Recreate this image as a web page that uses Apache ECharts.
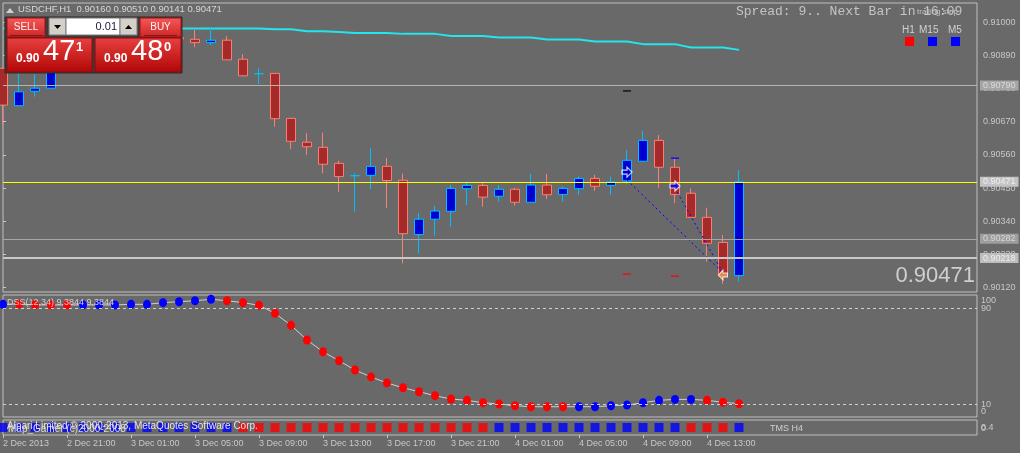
<!DOCTYPE html>
<html><head><meta charset="utf-8">
<script src="https://cdn.jsdelivr.net/npm/echarts@6/dist/echarts.min.js"></script>
<style>html,body{margin:0;padding:0;background:#696969;overflow:hidden}#c{width:1020px;height:453px}</style>
</head><body><div id="c"></div>
<script>
// ---------------- data ----------------
const symbolName = 'USDCHF,H1';
const timeLabels = ['2 Dec 2013','2 Dec 21:00','3 Dec 01:00','3 Dec 05:00','3 Dec 09:00','3 Dec 13:00','3 Dec 17:00','3 Dec 21:00','4 Dec 01:00','4 Dec 05:00','4 Dec 09:00','4 Dec 13:00'];
const barsPerLabel = 4;
const priceTicks = [0.90120,0.90230,0.90340,0.90450,0.90560,0.90670,0.90780,0.90890,0.91000];
const dssInnerTicks = [10,90];
const dssTopTick = [100];
const dssBottomTick = [0];
const tmsTicks = ['0','0.4'];
const open  = [0.90847,0.90723,0.90771,0.90781,0.90891,0.90924,0.90908,0.90947,0.90954,0.90934,0.90961,0.90949,0.90943,0.90932,0.90940,0.90877,0.90829,0.90830,0.90681,0.90602,0.90585,0.90532,0.90491,0.90492,0.90522,0.90476,0.90296,0.90347,0.90373,0.90448,0.90459,0.90423,0.90446,0.90403,0.90460,0.90429,0.90448,0.90482,0.90459,0.90474,0.90539,0.90608,0.90519,0.90433,0.90353,0.90270,0.90160];
const high  = [0.90848,0.90848,0.90828,0.90908,0.90941,0.90934,0.90961,0.90974,0.90967,0.90980,0.90987,0.90964,0.90974,0.90983,0.90954,0.90894,0.90847,0.90830,0.90681,0.90632,0.90634,0.90541,0.90499,0.90583,0.90550,0.90498,0.90368,0.90391,0.90460,0.90471,0.90466,0.90460,0.90451,0.90497,0.90497,0.90455,0.90488,0.90494,0.90488,0.90576,0.90639,0.90626,0.90549,0.90449,0.90385,0.90295,0.90510];
const low   = [0.90659,0.90723,0.90753,0.90781,0.90881,0.90891,0.90894,0.90927,0.90921,0.90924,0.90947,0.90927,0.90917,0.90924,0.90875,0.90822,0.90795,0.90653,0.90579,0.90560,0.90499,0.90438,0.90372,0.90447,0.90384,0.90200,0.90233,0.90292,0.90322,0.90394,0.90388,0.90405,0.90392,0.90403,0.90414,0.90405,0.90427,0.90441,0.90427,0.90463,0.90539,0.90451,0.90400,0.90353,0.90206,0.90132,0.90141];
const close = [0.90725,0.90769,0.90781,0.90891,0.90924,0.90908,0.90947,0.90954,0.90934,0.90961,0.90974,0.90944,0.90932,0.90940,0.90875,0.90822,0.90829,0.90680,0.90605,0.90587,0.90529,0.90488,0.90491,0.90522,0.90475,0.90299,0.90347,0.90374,0.90449,0.90459,0.90420,0.90446,0.90403,0.90460,0.90428,0.90449,0.90482,0.90456,0.90470,0.90542,0.90608,0.90519,0.90429,0.90353,0.90267,0.90158,0.90471];
const ma    = [0.90979,0.90979,0.90979,0.90979,0.90979,0.90979,0.90979,0.90979,0.90979,0.90979,0.90979,0.90979,0.90979,0.90979,0.90979,0.90979,0.90979,0.90976,0.90976,0.90970,0.90970,0.90967,0.90964,0.90964,0.90964,0.90961,0.90961,0.90961,0.90954,0.90954,0.90954,0.90949,0.90949,0.90949,0.90942,0.90942,0.90942,0.90936,0.90936,0.90936,0.90927,0.90927,0.90927,0.90916,0.90916,0.90916,0.90908];
const spreadPoints = 9;
const levels = [0.90790,0.90471,0.90282,0.90218];
const signalLineA = [[39,0.90477],[45,0.90169]];
const signalLineB = [[42,0.90450],[45,0.90169]];
const arrowRight = [[39,0.90503],[42,0.90457]];
const arrowLeft  = [[45,0.90162]];
const dashBlack = [[39,0.90772]];
const dashRed   = [[39,0.90165],[42,0.90158]];
const dashBlue  = [[42,0.90549]];
const dss = [93.3,93.6,92.8,92.8,92.8,92.8,92.8,92.8,93.3,93.3,94.7,95.5,96.3,97.5,96.3,94.7,92.5,85.8,75.8,63.6,53.8,46.3,38.6,32.8,27.8,23.8,20.5,17.2,14.4,13.3,11.3,10.3,8.8,8.0,8.0,8.0,8.0,8.0,8.8,9.4,11.3,13.3,14.1,14.1,13.3,11.7,10.5];
const dssSide = 'brrrrbbbbbbbbbrrrrrrrrrrrrrrrrrrrrrrbbbbbbbbrrr';
const dssLevels = [90,10];
const tmsSide = 'bbbbbbbbbbbbbbbrrrrrrrrrrrrrrrrbbbbbbbbbbbbrrrb';
const tfNames = ['H1','M15','M5'];
const tfSide = 'rbb';

// ---------------- chart ----------------
const FONT = 'Liberation Sans';
const TXT = '#c8c8c8';
const BG = '#696969';
const side = s => s === 'r' ? '#ff0000' : '#0000ff';
const n = close.length;
const chart = echarts.init(document.getElementById('c'), null, {renderer:'canvas'});

const xMax = 974 / 16;
const tickVals = timeLabels.map((_, k) => k * barsPerLabel);
const mkX = (gi, showLab) => ({
  type:'value', gridIndex:gi, min:0, max:xMax,
  axisLine:{show:false}, splitLine:{show:false},
  axisTick:{show:showLab, customValues:tickVals, length:3, lineStyle:{color:TXT}},
  axisLabel:{show:showLab, customValues:tickVals, hideOverlap:false, align:'left', margin:4, color:TXT, fontSize:9, fontFamily:FONT,
    formatter: v => timeLabels[Math.round(v / barsPerLabel)] || ''}
});
const dssY = (vals, va) => ({type:'value', gridIndex:1, position:'right', min:-0.58, max:101.08,
  axisLine:{show:false}, splitLine:{show:false}, axisTick:{show:false},
  axisLabel:{customValues:vals, hideOverlap:false, showMinLabel:true, showMaxLabel:true, verticalAlign:va, margin:4, color:TXT, fontSize:9, fontFamily:FONT, formatter:v=>String(v)}});
const tmsY = (k) => ({type:'value', gridIndex:2, position:'right', min:0, max:1,
  axisLine:{show:false}, splitLine:{show:false}, axisTick:{show:false},
  axisLabel:{customValues:[0.45 + 0.05*k], hideOverlap:false, margin:4, color:TXT, fontSize:9, fontFamily:FONT, formatter:()=>tmsTicks[k]}});

const last = close[n-1];
const ask = last + spreadPoints * 0.00001;
function splitPrice(p){ const s = p.toFixed(5); return [s.slice(0,4), s.slice(4,6), s.slice(6)]; }
const bidP = splitPrice(last), askP = splitPrice(ask);
const grad = (a,b) => new echarts.graphic.LinearGradient(0,0,0,1,[{offset:0,color:a},{offset:1,color:b}]);

const arrowR = 'path://M0,3 L5,3 L5,0 L10,5 L5,10 L5,7 L0,7 Z';
const arrowL = 'path://M10,3 L5,3 L5,0 L0,5 L5,10 L5,7 L10,7 Z';

const levelStyles = [
  {line:'#b4b4b4', w:1, bg:'#a6a6a6', fg:'#dadada'},
  {line:'#ffff00', w:1, bg:'#c4c4c4', fg:'#eeeeee'},
  {line:'#a6a6a6', w:1, bg:'#9e9e9e', fg:'#d6d6d6'},
  {line:'#c8c8c8', w:2, bg:'#bebebe', fg:'#eeeeee'}
];

const option = {
  backgroundColor: BG,
  animation:false,
  textStyle:{fontFamily:FONT},
  grid:[
    {left:3, top:3, width:974, height:289, show:true, borderColor:'#c0c0c0', borderWidth:1, backgroundColor:'transparent'},
    {left:3, top:295, width:974, height:122, show:true, borderColor:'#c0c0c0', borderWidth:1, backgroundColor:'transparent'},
    {left:3, top:420, width:974, height:15, show:true, borderColor:'#c0c0c0', borderWidth:1, backgroundColor:'transparent'}
  ],
  xAxis:[mkX(0,false), mkX(1,false), mkX(2,true)],
  yAxis:[
    {type:'value', gridIndex:0, position:'right', min:0.901057, max:0.910633,
     axisLine:{show:false}, splitLine:{show:false},
     axisTick:{show:true, customValues:priceTicks, length:3, lineStyle:{color:TXT}},
     axisLabel:{customValues:priceTicks, hideOverlap:false, margin:6, color:TXT, fontSize:9, fontFamily:FONT, formatter:v=>v.toFixed(5)}},
    dssY(dssInnerTicks, 'middle'),
    tmsY(1),
    dssY(dssTopTick, 'top'),
    dssY(dssBottomTick, 'bottom'),
    tmsY(0)
  ],
  series:[
    {type:'line', name:'MA', xAxisIndex:0, yAxisIndex:0, data: ma.map((v,i)=>[i,v]), showSymbol:false, silent:true,
     lineStyle:{color:'#22e6ee', width:2}, z:2,
     markLine:{silent:true, symbol:'none', animation:false, precision:5,
       label:{show:true, position:'end', distance:3, fontSize:9, fontFamily:FONT, padding:[1,3,0,3], formatter:p=>Number(p.value).toFixed(5)},
       data: levels.map((v,k)=>({yAxis:v, lineStyle:{color:levelStyles[k].line, width:levelStyles[k].w, type:'solid'},
         label:{backgroundColor:levelStyles[k].bg, color:levelStyles[k].fg}}))}},
    {type:'candlestick', name:symbolName, xAxisIndex:0, yAxisIndex:0,
     data: open.map((o,i)=>[i,o,close[i],low[i],high[i]]), barWidth:10,
     itemStyle:{color:'#0000d2', borderColor:'#00bfff', color0:'#a52a2a', borderColor0:'#fa8072', borderWidth:1},
     z:3},
    {type:'line', xAxisIndex:0, yAxisIndex:0, data:signalLineA, showSymbol:false, silent:true, z:4,
     lineStyle:{color:'#0000ff', width:1, type:[2,3]}},
    {type:'line', xAxisIndex:0, yAxisIndex:0, data:signalLineB, showSymbol:false, silent:true, z:4,
     lineStyle:{color:'#0000ff', width:1, type:[2,3]}},
    {type:'scatter', xAxisIndex:0, yAxisIndex:0, data:dashBlack, symbol:'rect', symbolSize:[8,1.5], itemStyle:{color:'#000000'}, z:5, silent:true},
    {type:'scatter', xAxisIndex:0, yAxisIndex:0, data:dashRed, symbol:'rect', symbolSize:[8,1.5], itemStyle:{color:'#ff0000'}, z:5, silent:true},
    {type:'scatter', xAxisIndex:0, yAxisIndex:0, data:dashBlue, symbol:'rect', symbolSize:[8,1.5], itemStyle:{color:'#0000ff'}, z:5, silent:true},
    {type:'scatter', xAxisIndex:0, yAxisIndex:0, data:arrowRight.map((d,k)=>({value:d, itemStyle:{color:k===0?'rgba(0,0,0,0)':'#0000ff', borderColor:'#ffffff', borderWidth:1.2}})),
     symbol:arrowR, symbolSize:[10,10], z:6, silent:true},
    {type:'scatter', xAxisIndex:0, yAxisIndex:0, data:arrowLeft, symbol:arrowL, symbolSize:[9,10],
     itemStyle:{color:'#f0a050', borderColor:'#ffffff', borderWidth:1}, z:6, silent:true},
    {type:'line', name:'DSS', xAxisIndex:1, yAxisIndex:1,
     data: dss.map((v,i)=>({value:[i,v], itemStyle:{color:side(dssSide[i])}})),
     symbol:'circle', symbolSize:[8,9], showSymbol:true, silent:true,
     lineStyle:{color:'#d0d0d0', width:1},
     markLine:{silent:true, symbol:'none', label:{show:false},
       lineStyle:{color:'#d0d0d0', width:1, type:[3,3]},
       data: dssLevels.map(v=>({yAxis:v}))}},
    {type:'scatter', name:'TMS', xAxisIndex:2, yAxisIndex:2,
     data: tmsSide.split('').map((s,i)=>({value:[i,0.5], itemStyle:{color:side(s)}})),
     symbol:'rect', symbolSize:9, silent:true}
  ],
  graphic:[
    {type:'polygon', z:100, shape:{points:[[6,13],[10,8],[14,13]]}, style:{fill:'#d0d0d0'}},
    {type:'text', z:100, x:18, y:9.5, style:{text: symbolName + '  ' + [open[n-1],high[n-1],low[n-1],close[n-1]].map(v=>v.toFixed(5)).join(' '),
      fill:'#d8d8d8', font:'9.5px "Liberation Sans"', verticalAlign:'middle'}},
    {type:'text', z:100, x:736, y:12, style:{text:'Spread: ' + spreadPoints + '.. Next Bar in 16:09', fill:'#c4c4c4', font:'13px "Liberation Mono"', verticalAlign:'middle'}},
    {type:'text', z:101, x:917, y:12, style:{text:'trailing stop', fill:'#c4c4c4', font:'8px "Liberation Sans"', verticalAlign:'middle'}},
    ...tfNames.map((t,k)=>({type:'text', z:100, x:[902,919,948][k], y:30, style:{text:t, fill:'#d0d0d0', font:'10px "Liberation Sans"', verticalAlign:'middle'}})),
    ...tfNames.map((t,k)=>({type:'rect', z:100, shape:{x:[905,928,951][k], y:37, width:9, height:9}, style:{fill:side(tfSide[k])}})),
    {type:'text', z:100, x:975, y:276, style:{text:last.toFixed(5), fill:'#cfcfcf', font:'22px "Liberation Sans"', align:'right', verticalAlign:'middle'}},
    {type:'text', z:100, x:7, y:303, style:{text:'DSS(12,34) 9.3844 9.3844', fill:'#d0d0d0', font:'9px "Liberation Sans"', verticalAlign:'middle'}},
    {type:'text', z:100, x:8, y:429, style:{text:'Map_Gamer (c)2000-2008', fill:'#dcdcdc', font:'10px "Liberation Sans"', verticalAlign:'middle'}},
    {type:'text', z:100, x:7, y:426, style:{text:'Alpari Limited \u00a9 2000-2013, MetaQuotes Software Corp.', fill:'#e4e4e4', font:'10px "Liberation Sans"', verticalAlign:'middle'}},
    {type:'text', z:100, x:770, y:429, style:{text:'TMS H4', fill:'#cfcfcf', font:'9px "Liberation Sans"', verticalAlign:'middle'}},
    {type:'rect', z:100, shape:{x:5,y:17,width:177,height:56}, style:{fill:'#3b3b3b', stroke:'#2a2a2a'}},
    {type:'rect', z:101, shape:{x:7,y:18,width:38,height:19}, style:{fill:grad('#f45a5a','#cf2424'), stroke:'#a01010'}},
    {type:'line', z:102, shape:{x1:10,y1:35.5,x2:43,y2:35.5}, style:{stroke:'#8a1515', lineWidth:1}},
    {type:'text', z:102, x:26, y:27, style:{text:'SELL', fill:'#fff4f4', font:'10px "Liberation Sans"', align:'center', verticalAlign:'middle'}},
    {type:'rect', z:101, shape:{x:49,y:18,width:17,height:17}, style:{fill:'#d4d0c8', stroke:'#7a7a7a'}},
    {type:'polygon', z:102, shape:{points:[[54,25],[61,25],[57.5,29]]}, style:{fill:'#000'}},
    {type:'rect', z:101, shape:{x:66,y:18,width:54,height:17}, style:{fill:'#ffffff', stroke:'#7a7a7a'}},
    {type:'text', z:102, x:117, y:27, style:{text:'0.01', fill:'#1a1a3a', font:'11px "Liberation Sans"', align:'right', verticalAlign:'middle'}},
    {type:'rect', z:101, shape:{x:120,y:18,width:17,height:17}, style:{fill:'#d4d0c8', stroke:'#7a7a7a'}},
    {type:'polygon', z:102, shape:{points:[[125,29],[132,29],[128.5,25]]}, style:{fill:'#000'}},
    {type:'rect', z:101, shape:{x:140,y:18,width:41,height:19}, style:{fill:grad('#f45a5a','#cf2424'), stroke:'#a01010'}},
    {type:'line', z:102, shape:{x1:144,y1:35.5,x2:177,y2:35.5}, style:{stroke:'#8a1515', lineWidth:1}},
    {type:'text', z:102, x:160.5, y:27, style:{text:'BUY', fill:'#fff4f4', font:'10px "Liberation Sans"', align:'center', verticalAlign:'middle'}},
    {type:'rect', z:101, shape:{x:7,y:38,width:85,height:34}, style:{fill:grad('#e84040','#b00606'), stroke:'#8e0a0a'}},
    {type:'rect', z:101, shape:{x:95,y:38,width:86,height:34}, style:{fill:grad('#e84040','#b00606'), stroke:'#8e0a0a'}},
    {type:'text', z:102, x:16, y:58.5, style:{text:bidP[0], fill:'#ffffff', font:'bold 12px "Liberation Sans"', verticalAlign:'middle'}},
    {type:'text', z:102, x:43, y:52, style:{text:bidP[1], fill:'#ffffff', font:'29px "Liberation Sans"', verticalAlign:'middle'}},
    {type:'text', z:102, x:76, y:47.5, style:{text:bidP[2], fill:'#ffffff', font:'bold 13px "Liberation Sans"', verticalAlign:'middle'}},
    {type:'text', z:102, x:104, y:58.5, style:{text:askP[0], fill:'#ffffff', font:'bold 12px "Liberation Sans"', verticalAlign:'middle'}},
    {type:'text', z:102, x:131, y:52, style:{text:askP[1], fill:'#ffffff', font:'29px "Liberation Sans"', verticalAlign:'middle'}},
    {type:'text', z:102, x:164, y:47.5, style:{text:askP[2], fill:'#ffffff', font:'bold 13px "Liberation Sans"', verticalAlign:'middle'}}
  ]
};
chart.setOption(option);
</script></body></html>
